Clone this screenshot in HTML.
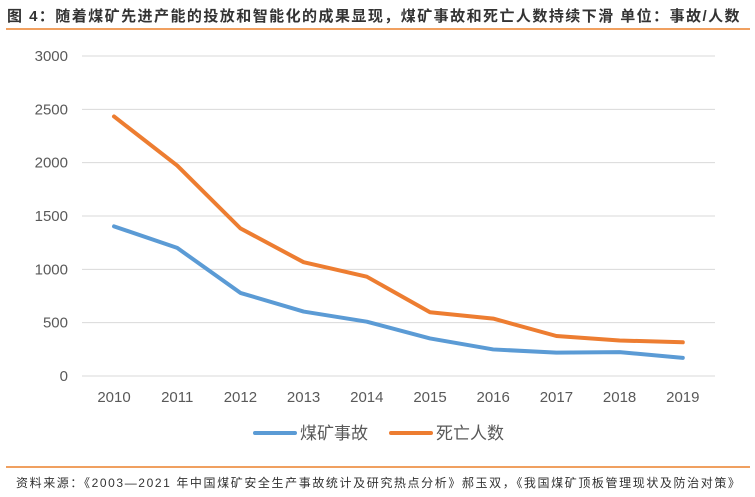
<!DOCTYPE html>
<html><head><meta charset="utf-8">
<style>
body{margin:0;width:755px;height:497px;background:#fff;overflow:hidden;font-family:"Liberation Sans","Noto Sans CJK SC",sans-serif;}
.title{position:absolute;left:7px;top:5px;font-size:15px;letter-spacing:1.45px;font-weight:bold;color:#333;white-space:nowrap;}
.src{position:absolute;left:16px;top:474px;font-size:12px;letter-spacing:1.6px;color:#333;white-space:nowrap;}
.hr{position:absolute;left:6px;width:744px;height:2px;background:#F0A060;}
</style></head><body>
<div class="title">图 4：随着煤矿先进产能的投放和智能化的成果显现，煤矿事故和死亡人数持续下滑 单位：事故/人数</div>
<div class="hr" style="top:28px"></div>
<svg id="chart" width="755" height="497" style="position:absolute;left:0;top:0"></svg>
<div class="hr" style="top:466px"></div>
<div class="src">资料来源：《2003—2021 年中国煤矿安全生产事故统计及研究热点分析》郝玉双，《我国煤矿顶板管理现状及防治对策》</div>
<script>
const years=["2010","2011","2012","2013","2014","2015","2016","2017","2018","2019"];
const accidents=[1403,1201,779,604,509,352,249,219,224,170];
const deaths=[2433,1973,1384,1067,931,598,538,375,333,316];
const yTicks=[0,500,1000,1500,2000,2500,3000];
const svg=document.getElementById('chart');
const NS='http://www.w3.org/2000/svg';
const x0=114,dx=63.2,yb=376,yt=56,ymax=3000;
const X=i=>x0+i*dx, Y=v=>yb-(v/ymax)*(yb-yt);
function mk(t,a){const e=document.createElementNS(NS,t);for(const k in a)e.setAttribute(k,a[k]);svg.appendChild(e);return e;}
yTicks.forEach(v=>{
 const l=mk('line',{x1:82,x2:715,y1:Y(v),y2:Y(v),stroke:'#d9d9d9','stroke-width':1});
 
 
 const t=mk('text',{x:68,y:Y(v)+5,'text-anchor':'end','font-size':15,fill:'#595959'});
 t.textContent=v;
 
 
});
years.forEach((y,i)=>{
 const t=mk('text',{x:X(i),y:402,'text-anchor':'middle','font-size':15,fill:'#595959'});
 t.textContent=y;
 
 
});
function series(vals,col,name){
 const p=mk('polyline',{points:vals.map((v,i)=>X(i)+','+Y(v)).join(' '),fill:'none',stroke:col,'stroke-width':4,'stroke-linejoin':'round','stroke-linecap':'round'});
 
 
}
series(accidents,'#5B9BD5','accidents-line');
series(deaths,'#ED7D31','deaths-line');
function legend(x,col,label,name){
 const l=mk('line',{x1:x,x2:x+40,y1:433,y2:433,stroke:col,'stroke-width':4,'stroke-linecap':'round'});
 
 
 const t=mk('text',{x:x+45,y:439,'font-size':17,fill:'#595959'});
 t.textContent=label;
 
 
}
legend(255,'#5B9BD5','煤矿事故','legend-accidents');
legend(391,'#ED7D31','死亡人数','legend-deaths');
</script>
</body></html>
